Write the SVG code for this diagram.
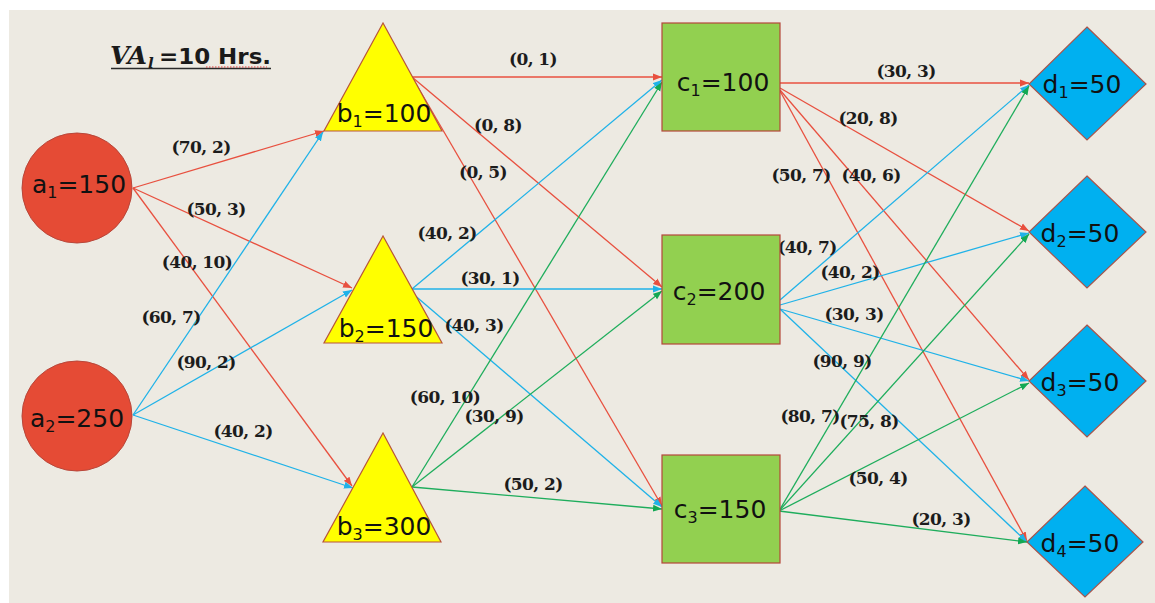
<svg xmlns="http://www.w3.org/2000/svg" width="1155" height="603" viewBox="0 0 1155 603">
  <style>
    .bg { fill: #EDEAE2; }
    .src { fill: #E54B35; stroke: #B8473A; stroke-width: 1; }
    .tri { fill: #FFFF00; stroke: #B8553A; stroke-width: 1.2; }
    .box { fill: #92D050; stroke: #B5473A; stroke-width: 1.2; }
    .dia { fill: #00B0F0; stroke: #A8554C; stroke-width: 1.2; }
    .nl { font-family: "DejaVu Sans", Verdana, sans-serif; font-size: 25px; fill: #111; text-anchor: middle; }
    .nl .sub { font-size: 16px; }
    .el { font-family: "DejaVu Serif", "Liberation Serif", serif; font-weight: bold; font-size: 17px; fill: #1c1c1c; text-anchor: middle; letter-spacing: -0.6px; }
    .r { stroke: #E8503F; stroke-width: 1.3; fill: none; marker-end: url(#ahR); }
    .b { stroke: #1FB2E8; stroke-width: 1.3; fill: none; marker-end: url(#ahB); }
    .g { stroke: #1EAD5C; stroke-width: 1.3; fill: none; marker-end: url(#ahG); }
  </style>
  <defs>
    <marker id="ahR" markerUnits="userSpaceOnUse" markerWidth="10" markerHeight="8" refX="9" refY="4" orient="auto">
      <path d="M0,0.5 L9,4 L0,7.5 z" fill="#E8503F"/>
    </marker>
    <marker id="ahB" markerUnits="userSpaceOnUse" markerWidth="10" markerHeight="8" refX="9" refY="4" orient="auto">
      <path d="M0,0.5 L9,4 L0,7.5 z" fill="#1FB2E8"/>
    </marker>
    <marker id="ahG" markerUnits="userSpaceOnUse" markerWidth="10" markerHeight="8" refX="9" refY="4" orient="auto">
      <path d="M0,0.5 L9,4 L0,7.5 z" fill="#12A853"/>
    </marker>
  </defs>

  <rect class="bg" x="9" y="10" width="1146" height="593"/>

  <!-- heading -->
  <g id="title">
    <text x="110" y="64" font-family="'DejaVu Serif', serif" font-style="italic" font-weight="bold" font-size="24" fill="#1a1a1a" textLength="37" lengthAdjust="spacingAndGlyphs">VA</text>
    <text x="148" y="68" font-family="'DejaVu Serif', serif" font-style="italic" font-weight="bold" font-size="15" fill="#1a1a1a">l</text>
    <text x="159" y="64" font-family="'DejaVu Sans', Verdana, sans-serif" font-weight="bold" font-size="22" fill="#1a1a1a" textLength="112" lengthAdjust="spacingAndGlyphs">=10 Hrs.</text>
    <line x1="111" y1="68.5" x2="271" y2="68.5" stroke="#2a2a2a" stroke-width="1.5"/>
    <line x1="206" y1="67" x2="267" y2="67" stroke="#E0393A" stroke-width="1" stroke-dasharray="1.5 1.5"/>
  </g>

  <!-- connectors -->
  <g id="connectors">
    <!-- a1 -> b -->
    <line class="r" x1="133" y1="188" x2="324" y2="131"/>
    <line class="r" x1="133" y1="188" x2="352" y2="288"/>
    <line class="r" x1="133" y1="188" x2="352" y2="486"/>
    <!-- a2 -> b -->
    <line class="b" x1="133" y1="415" x2="323" y2="132"/>
    <line class="b" x1="133" y1="415" x2="352" y2="290"/>
    <line class="b" x1="133" y1="415" x2="353" y2="488"/>
    <!-- b1 -> c -->
    <line class="r" x1="412" y1="77" x2="662" y2="77"/>
    <line class="r" x1="412" y1="77" x2="662" y2="287"/>
    <line class="r" x1="412" y1="77" x2="662" y2="506"/>
    <!-- b2 -> c -->
    <line class="b" x1="412" y1="289" x2="662" y2="80"/>
    <line class="b" x1="412" y1="289" x2="662" y2="289"/>
    <line class="b" x1="412" y1="293" x2="662" y2="507"/>
    <!-- b3 -> c -->
    <line class="g" x1="412" y1="487" x2="662" y2="82"/>
    <line class="g" x1="412" y1="487" x2="662" y2="291"/>
    <line class="g" x1="412" y1="487" x2="662" y2="509"/>
    <!-- c1 -> d -->
    <line class="r" x1="780" y1="83" x2="1029" y2="83"/>
    <line class="r" x1="780" y1="88" x2="1029" y2="231"/>
    <line class="r" x1="780" y1="90" x2="1029" y2="380"/>
    <line class="r" x1="780" y1="91" x2="1027" y2="541"/>
    <!-- c2 -> d -->
    <line class="b" x1="780" y1="300" x2="1029" y2="85"/>
    <line class="b" x1="780" y1="305" x2="1029" y2="233"/>
    <line class="b" x1="780" y1="309" x2="1029" y2="381"/>
    <line class="b" x1="780" y1="309" x2="1027" y2="542"/>
    <!-- c3 -> d -->
    <line class="g" x1="779" y1="511" x2="1029" y2="86"/>
    <line class="g" x1="779" y1="511" x2="1029" y2="234"/>
    <line class="g" x1="779" y1="511" x2="1029" y2="383"/>
    <line class="g" x1="779" y1="511" x2="1027" y2="542"/>
  </g>

  <!-- connector labels -->
  <g id="edge-labels">
    <text class="el" x="201" y="153">(70, 2)</text>
    <text class="el" x="216" y="215">(50, 3)</text>
    <text class="el" x="197" y="268">(40, 10)</text>
    <text class="el" x="171" y="323">(60, 7)</text>
    <text class="el" x="206" y="368">(90, 2)</text>
    <text class="el" x="243" y="437">(40, 2)</text>
    <text class="el" x="533" y="65">(0, 1)</text>
    <text class="el" x="498" y="131">(0, 8)</text>
    <text class="el" x="483" y="178">(0, 5)</text>
    <text class="el" x="447" y="239">(40, 2)</text>
    <text class="el" x="490" y="284">(30, 1)</text>
    <text class="el" x="474" y="331">(40, 3)</text>
    <text class="el" x="445" y="403">(60, 10)</text>
    <text class="el" x="494" y="422">(30, 9)</text>
    <text class="el" x="533" y="490">(50, 2)</text>
    <text class="el" x="906" y="77">(30, 3)</text>
    <text class="el" x="868" y="124">(20, 8)</text>
    <text class="el" x="801" y="181">(50, 7)</text>
    <text class="el" x="871" y="181">(40, 6)</text>
    <text class="el" x="807" y="253">(40, 7)</text>
    <text class="el" x="850" y="278">(40, 2)</text>
    <text class="el" x="854" y="320">(30, 3)</text>
    <text class="el" x="842" y="367">(90, 9)</text>
    <text class="el" x="810" y="422">(80, 7)</text>
    <text class="el" x="869" y="427">(75, 8)</text>
    <text class="el" x="878" y="484">(50, 4)</text>
    <text class="el" x="941" y="525">(20, 3)</text>
  </g>

  <!-- sources -->
  <g id="a1">
    <circle class="src" cx="77" cy="188" r="55"/>
    <text class="nl" x="79" y="193">a<tspan class="sub" dy="5">1</tspan><tspan dy="-5">=150</tspan></text>
  </g>
  <g id="a2">
    <circle class="src" cx="77" cy="416" r="55"/>
    <text class="nl" x="77" y="427">a<tspan class="sub" dy="5">2</tspan><tspan dy="-5">=250</tspan></text>
  </g>

  <!-- b stage -->
  <g id="b1">
    <polygon class="tri" points="383,23 324,131 442,131"/>
    <text class="nl" x="384" y="122">b<tspan class="sub" dy="5">1</tspan><tspan dy="-5">=100</tspan></text>
  </g>
  <g id="b2">
    <polygon class="tri" points="383,236 324,343 442,343"/>
    <text class="nl" x="386" y="337">b<tspan class="sub" dy="5">2</tspan><tspan dy="-5">=150</tspan></text>
  </g>
  <g id="b3">
    <polygon class="tri" points="383,433 323,542 441,542"/>
    <text class="nl" x="384" y="535">b<tspan class="sub" dy="5">3</tspan><tspan dy="-5">=300</tspan></text>
  </g>

  <!-- c stage -->
  <g id="c1">
    <rect class="box" x="662" y="23" width="118" height="108"/>
    <text class="nl" x="723" y="91">c<tspan class="sub" dy="5">1</tspan><tspan dy="-5">=100</tspan></text>
  </g>
  <g id="c2">
    <rect class="box" x="662" y="235" width="118" height="109"/>
    <text class="nl" x="719" y="300">c<tspan class="sub" dy="5">2</tspan><tspan dy="-5">=200</tspan></text>
  </g>
  <g id="c3">
    <rect class="box" x="662" y="455" width="118" height="108"/>
    <text class="nl" x="720" y="518">c<tspan class="sub" dy="5">3</tspan><tspan dy="-5">=150</tspan></text>
  </g>

  <!-- sinks -->
  <g id="d1">
    <polygon class="dia" points="1087,27 1146,84 1087,140 1029,84"/>
    <text class="nl" x="1082" y="93">d<tspan class="sub" dy="5">1</tspan><tspan dy="-5">=50</tspan></text>
  </g>
  <g id="d2">
    <polygon class="dia" points="1087,176 1146,232 1087,288 1029,232"/>
    <text class="nl" x="1080" y="242">d<tspan class="sub" dy="5">2</tspan><tspan dy="-5">=50</tspan></text>
  </g>
  <g id="d3">
    <polygon class="dia" points="1087,325 1146,381 1087,437 1029,381"/>
    <text class="nl" x="1080" y="391">d<tspan class="sub" dy="5">3</tspan><tspan dy="-5">=50</tspan></text>
  </g>
  <g id="d4">
    <polygon class="dia" points="1085,486 1143,542 1085,597 1027,542"/>
    <text class="nl" x="1080" y="552">d<tspan class="sub" dy="5">4</tspan><tspan dy="-5">=50</tspan></text>
  </g>
</svg>
